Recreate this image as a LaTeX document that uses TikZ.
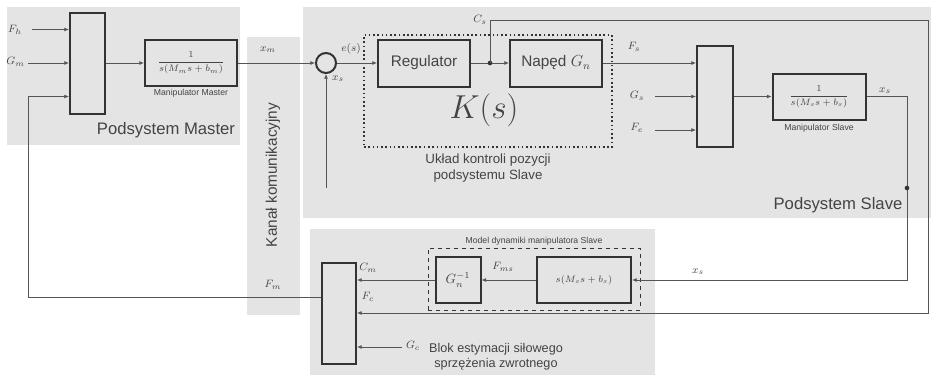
\documentclass[tikz,border=0pt]{standalone}
\usepackage{fontspec}
\setmainfont{Liberation Sans}
\usetikzlibrary{arrows.meta,calc}
\definecolor{regfill}{HTML}{E4E4E4}
\definecolor{blk}{HTML}{333333}
\definecolor{wirec}{HTML}{555555}
\definecolor{txt}{HTML}{444444}
\tikzset{
  region/.style={fill=regfill, draw=none},
  blockbox/.style={draw=blk, line width=1.5pt, inner sep=0pt, align=center, text=txt},
  wire/.style={draw=wirec, line width=0.6pt},
  arr/.style={wire, -{Latex[length=3.5pt,width=3pt]}},
  lbl/.style={text=txt, font=\fontsize{8.5}{9}\selectfont, inner sep=0pt},
  tiny/.style={text=txt, font=\fontsize{6.5}{7}\selectfont, inner sep=0pt},
  big/.style={text=txt, font=\fontsize{12.5}{14}\selectfont, inner sep=0pt},
  mid/.style={text=txt, font=\fontsize{10}{12}\selectfont, inner sep=0pt, align=center},
  jdot/.style={circle, fill=blk, inner sep=0pt, minimum size=3.5pt},
  fracbox/.style={blockbox, font=\fontsize{7.5}{8}\selectfont}
}
\begin{document}
\begin{tikzpicture}[x=0.75pt,y=-0.75pt]
\useasboundingbox (0,0) rectangle (935,375);
% regions
\fill[region] (7,7) rectangle (240,145);
\fill[region] (247,37) rectangle (300,315);
\fill[region] (303,7) rectangle (931,218);
\fill[region] (310,229) rectangle (655,375);
\node[big] (tmaster) at (166,130) {Podsystem Master};
\node[big] (tslave) at (838,205) {Podsystem Slave};
\node[mid, rotate=90, font=\fontsize{11.5}{12}\selectfont] (tkanal) at (273,175) {Kanał komunikacyjny};
% master
\node[blockbox, minimum width=26.25pt, minimum height=75.75pt] (muxM) at (87.5,63) {};
\node[fracbox, minimum width=69pt, minimum height=34.5pt] (manM) at (191,63) {$\displaystyle\frac{1}{s(M_m s+b_m)}$};
\node[tiny] (tmanM) at (191,93) {Manipulator Master};
\coordinate (fh) at (32,29.5);
\coordinate (gm) at (28,63);
\draw[arr] (fh) -- (fh -| muxM.west);
\draw[arr] (gm) -- (gm -| muxM.west);
\node[lbl, anchor=east] (lfh) at (22,30) {$F_h$};
\node[lbl, anchor=east] (lgm) at (25,62) {$G_m$};
\draw[arr] (muxM.east) -- (manM.west);
% sum and controller
\node[circle, draw=blk, line width=1.5pt, minimum size=15pt, inner sep=0pt] (sum) at (326,63) {};
\draw[arr] (manM.east) -- (sum.west);
\node[lbl] (lxm) at (268,50) {$x_m$};
\node[lbl] (les) at (351,49) {$e(s)$};
\coordinate (xsf) at (326,188);
\draw[arr] (xsf) -- (sum.south);
\node[lbl] (lxs1) at (338,79) {$x_s$};
\node[draw=blk, line width=1.2pt, dotted, minimum width=186pt, minimum height=84pt] (K) at (488,91) {};
\node[blockbox, minimum width=69pt, minimum height=35.25pt, font=\fontsize{11.5}{13}\selectfont] (reg) at (424,63) {Regulator};
\node[blockbox, minimum width=69pt, minimum height=35.25pt, font=\fontsize{11.5}{13}\selectfont] (nap) at (556,63) {Napęd $G_n$};
\node[text=txt, font=\fontsize{25}{27}\selectfont, inner sep=0pt] (tK) at (484,110) {$K(s)$};
\node[mid] (tuk) at (488,168) {Układ kontroli pozycji\\podsystemu Slave};
\draw[arr] (sum.east) -- (reg.west);
\coordinate (j1) at (490,63);
\draw[arr] (reg.east) -- (nap.west);
\node[jdot] (dj1) at (j1) {};
% slave
\node[blockbox, minimum width=27pt, minimum height=75.75pt] (muxS) at (715,96.5) {};
\node[fracbox, minimum width=69.75pt, minimum height=34.5pt] (manS) at (819,96.5) {$\displaystyle\frac{1}{s(M_s s+b_s)}$};
\node[tiny] (tmanS) at (819,128) {Manipulator Slave};
\draw[arr] (nap.east) -- (nap.east -| muxS.west);
\node[lbl] (lfs) at (634,47) {$F_s$};
\coordinate (gs) at (655,96.5);
\coordinate (fe) at (655,130);
\draw[arr] (gs) -- (gs -| muxS.west);
\draw[arr] (fe) -- (fe -| muxS.west);
\node[lbl] (lgs) at (637,96) {$G_s$};
\node[lbl] (lfe) at (637,128) {$F_e$};
\draw[arr] (muxS.east) -- (manS.west);
\node[lbl] (lxs2) at (885,91) {$x_s$};
% bottom
\node[blockbox, minimum width=25.5pt, minimum height=75.75pt] (muxB) at (339,313) {};
\node[draw=blk, line width=0.6pt, dashed, minimum width=159pt, minimum height=46.5pt] (md) at (534,279) {};
\node[tiny] (tmd) at (534,241) {Model dynamiki manipulatora Slave};
\node[blockbox, minimum width=33.75pt, minimum height=34.5pt, font=\fontsize{10}{11}\selectfont] (Ginv) at (458,280) {$G_n^{-1}$};
\node[blockbox, minimum width=70.5pt, minimum height=34.5pt, font=\fontsize{7.5}{8}\selectfont] (model) at (584,280) {$s(M_s s+b_s)$};
\draw[arr] (model.west) -- (Ginv.east);
\node[lbl] (lfms) at (503,267) {$F_{ms}$};
\draw[arr] (Ginv.west) -- (Ginv.west -| muxB.east);
\node[lbl] (lcm) at (368,268) {$C_m$};
\coordinate (gc) at (402,347);
\draw[arr] (gc) -- (gc -| muxB.east);
\node[lbl] (lgc) at (413,346) {$G_c$};
\node[mid, font=\fontsize{9.5}{11.5}\selectfont] (tblok) at (496,357) {Blok estymacji siłowego\\sprzężenia zwrotnego};
% x_s feedback into model
\coordinate (xs1) at (907,96.5);
\coordinate (xs2) at (907,280);
\draw[arr] (manS.east) -- (xs1) -- (xs2) -- (model.east |- xs2);
\node[jdot] (dxs) at (907,188) {};
\node[lbl] (lxs3) at (698,272) {$x_s$};
% C_s loop
\coordinate (cs1) at (490,20);
\coordinate (cs2) at (928,20);
\coordinate (cs3) at (928,313);
\draw[arr] (j1) -- (cs1) -- (cs2) -- (cs3) -- (cs3 -| muxB.east);
\node[lbl] (lcs) at (480,20) {$C_s$};
\node[lbl] (lfc) at (368,297) {$F_c$};
% force feedback to master
\coordinate (fbc) at (28,297);
\coordinate (fbt) at (28,96.5);
\draw[arr] (muxB.west |- fbc) -- (fbc) -- (fbt) -- (fbt -| muxM.west);
\node[lbl] (lfm) at (273,285) {$F_m$};
\end{tikzpicture}
\end{document}
